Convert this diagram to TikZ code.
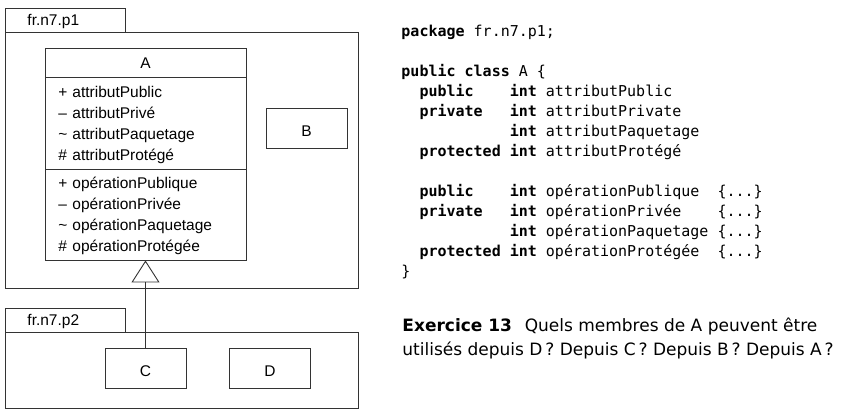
\documentclass[tikz,border=0pt]{standalone}
\usepackage{fontspec}
\setmainfont{DejaVu Sans}
\setmonofont{DejaVu Sans Mono}
\newfontfamily\umlfont{Liberation Sans}
\usetikzlibrary{arrows.meta}

\begin{document}
\begin{tikzpicture}[x=1pt,y=-1pt,line width=0.9pt,
    trait/.style={draw=black!80},
    classe/.style={trait,minimum width=81pt,minimum height=40pt,text height=17pt,text depth=0pt,
      font=\umlfont\fontsize{15.5}{18}\selectfont},
    membre/.style={anchor=base west,inner sep=0pt,font=\umlfont\fontsize{15.5}{18}\selectfont},
    code/.style={anchor=base west,inner sep=0pt,font=\ttfamily\fontsize{15}{20}\selectfont}]
    \useasboundingbox (0,0) rectangle (844,418);
    % paquetages
    \draw[trait] (5,8) rectangle (125,32);
    \draw[trait] (5,32) rectangle (358,288);
    \draw[trait] (5,308) rectangle (125,332);
    \draw[trait] (5,332) rectangle (358,408);
    \node[membre] (p1) at (27,25) {fr.n7.p1};
    \node[membre] (p2) at (27,325) {fr.n7.p2};
    % classe A
    \node[trait,minimum width=201pt,minimum height=212pt] (A) at (145.5,154) {};
    \node[membre,anchor=base] (nomA) at (145.5,68) {A};
    \draw[trait] (45,77) -- (246,77);
    \draw[trait] (45,169) -- (246,169);
    \foreach \s/\m/\y in {+/attributPublic/97, –/attributPrivé/118, \textasciitilde/attributPaquetage/139,
        \#/attributProtégé/160, +/opérationPublique/188, –/opérationPrivée/209,
        \textasciitilde/opérationPaquetage/230, \#/opérationProtégée/251}
      \node[membre] (m\y) at (58,\y) {\makebox[14pt][l]{\s}\m};
    \node[classe] (B) at (306.5,128.3) {B};
    \node[classe] (C) at (145.5,368) {C};
    \node[classe] (D) at (270,368) {D};
    \draw[trait,-{Triangle[open,length=22pt,width=28pt]}] (C.north) -- (A.south);
    % code Java
    \node[code] (c1) at (401,36.5) {\textbf{package} fr.n7.p1;};
    \node[code] (c2) at (401,76.5) {\textbf{public class} A \{};
    \node[code] (c3) at (401,96.5) {~~\textbf{public}~~~~\textbf{int} attributPublic};
    \node[code] (c4) at (401,116.5) {~~\textbf{private}~~~\textbf{int} attributPrivate};
    \node[code] (c5) at (401,136.5) {~~~~~~~~~~~~\textbf{int} attributPaquetage};
    \node[code] (c6) at (401,156.5) {~~\textbf{protected}~\textbf{int} attributProtégé};
    \node[code] (c7) at (401,196.5) {~~\textbf{public}~~~~\textbf{int} opérationPublique~~\{...\}};
    \node[code] (c8) at (401,216.5) {~~\textbf{private}~~~\textbf{int} opérationPrivée~~~~\{...\}};
    \node[code] (c9) at (401,236.5) {~~~~~~~~~~~~\textbf{int} opérationPaquetage~\{...\}};
    \node[code] (c10) at (401,256.5) {~~\textbf{protected}~\textbf{int} opérationProtégée~~\{...\}};
    \node[code] (c11) at (401,276.5) {\}};
    % exercice
    \node[anchor=base west,inner sep=0pt,font=\fontsize{17}{23}\selectfont] (ex1) at (402,331.5)
      {\textbf{Exercice 13}\hspace{0.75em}Quels membres de A peuvent être};
    \node[anchor=base west,inner sep=0pt,font=\fontsize{17}{23}\selectfont] (ex2) at (402,355)
      {utilisés depuis D\,? Depuis C\,? Depuis B\,? Depuis A\,?};
\end{tikzpicture}
\end{document}
